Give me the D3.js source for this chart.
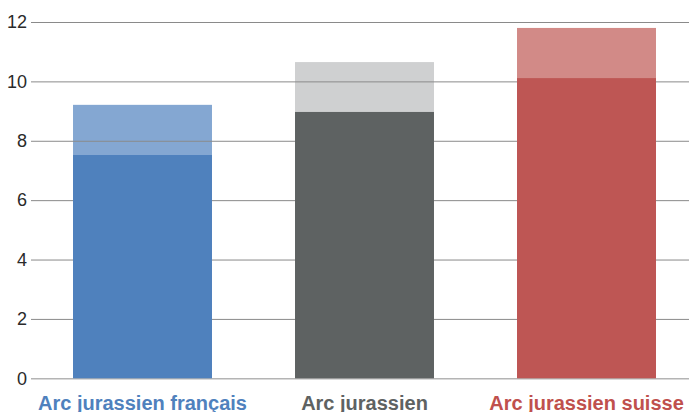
<!DOCTYPE html>
<html><head><meta charset="utf-8">
<script src="https://cdn.jsdelivr.net/npm/d3@7"></script>
<style>html,body{margin:0;padding:0;background:#fff;overflow:hidden}svg{display:block}</style>
</head><body>
<svg id="chart" width="689" height="412"></svg>
<script>
const categories = ["Arc jurassien français", "Arc jurassien", "Arc jurassien suisse"];
const baseValues = [7.52, 8.97, 10.11];
const totalValues = [9.21, 10.65, 11.80];
const yTicks = [0, 2, 4, 6, 8, 10, 12];
const darkColors = ["#4f81bd", "#5e6262", "#be5654"];
const lightColors = ["#84a7d2", "#cfd0d1", "#d28a87"];
const labelColors = ["#4f81bd", "#5e6262", "#c0504d"];

const svg = d3.select("#chart");
const y = d3.scaleLinear().domain([0, 12]).range([378.3, 22]);
const x = d3.scaleBand().domain(categories).range([31.5, 697.5]).paddingInner(0.374).paddingOuter(0.187);
const font = "'Liberation Sans', Arial, Helvetica, sans-serif";

// light (total) bars
svg.append("g").selectAll("rect").data(categories).join("rect")
  .attr("x", d => x(d)).attr("width", x.bandwidth())
  .attr("y", (d, i) => y(totalValues[i])).attr("height", (d, i) => y(0) - y(totalValues[i]))
  .attr("fill", (d, i) => lightColors[i]);

// grid lines
const axis = d3.axisLeft(y).tickValues(yTicks).tickSize(-(689 - 31)).tickPadding(4).tickFormat(d3.format("d"));
const g = svg.append("g").attr("transform", "translate(31,0)").call(axis);
g.select(".domain").remove();
g.selectAll(".tick line").attr("stroke", d => d === 0 ? "#b4b4b4" : "#8a8a8a").attr("stroke-width", d => d === 0 ? 1.5 : 1);
g.selectAll(".tick text").attr("font-family", font).attr("font-size", 18).attr("fill", "#2a2a2a").attr("x", -4);

// dark (base) bars
svg.append("g").selectAll("rect").data(categories).join("rect")
  .attr("x", d => x(d)).attr("width", x.bandwidth())
  .attr("y", (d, i) => y(baseValues[i])).attr("height", (d, i) => y(0) - y(baseValues[i]))
  .attr("fill", (d, i) => darkColors[i]);

// category labels
svg.append("g").selectAll("text").data(categories).join("text")
  .attr("x", d => x(d) + x.bandwidth() / 2).attr("y", 410)
  .attr("text-anchor", "middle")
  .attr("font-family", font).attr("font-size", 20).attr("font-weight", "bold")
  .attr("fill", (d, i) => labelColors[i])
  .text(d => d);
</script>
</body></html>
